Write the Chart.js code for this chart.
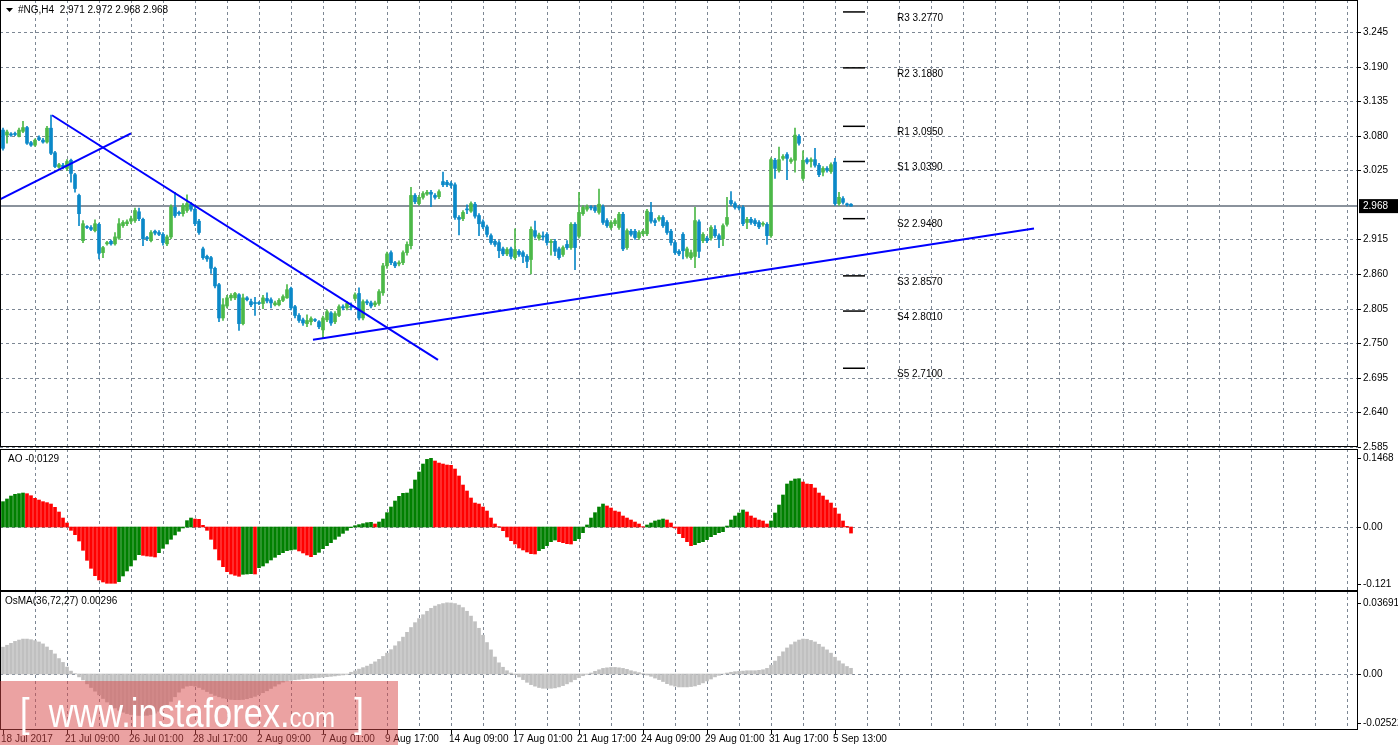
<!DOCTYPE html>
<html><head><meta charset="utf-8">
<script src="https://cdn.jsdelivr.net/npm/chart.js@4"></script>
<style>
body{margin:0;background:#fff;width:1398px;height:750px;overflow:hidden;position:relative;font-family:"Liberation Sans",sans-serif}
canvas{position:absolute;left:0}
#c1{z-index:2}
#wm{position:absolute;left:0;top:681px;width:398px;height:64px;background:rgba(215,70,70,0.5);z-index:3}
#wm span{position:absolute;left:20px;top:0;color:#fff;font-family:"Liberation Sans",sans-serif;font-size:40px;line-height:64px;white-space:nowrap;transform:scaleX(0.86);transform-origin:left center}
#wm small{font-size:28px}
</style></head><body>
<canvas id="c1" width="1398" height="452" style="top:0"></canvas>
<canvas id="c2" width="1398" height="142" style="top:449px"></canvas>
<canvas id="c3" width="1398" height="159" style="top:591px"></canvas>
<div id="wm"><span>[ &nbsp;www.instaforex.<small>com</small> &nbsp;]</span></div>
<script>
const O=[3.089,3.081,3.083,3.083,3.079,3.087,3.093,3.069,3.065,3.077,
3.073,3.070,3.092,3.053,3.030,3.033,3.028,3.041,3.018,2.985,
2.913,2.935,2.934,2.929,2.939,2.894,2.908,2.912,2.908,2.917,
2.937,2.940,2.944,2.945,2.959,2.947,2.918,2.913,2.928,2.926,
2.923,2.908,2.919,2.966,2.958,2.956,2.961,2.971,2.963,2.944,
2.900,2.888,2.886,2.869,2.843,2.790,2.809,2.822,2.822,2.827,
2.781,2.822,2.816,2.814,2.814,2.813,2.821,2.819,2.811,2.811,
2.818,2.822,2.837,2.808,2.794,2.787,2.781,2.784,2.787,2.784,
2.771,2.787,2.798,2.784,2.794,2.808,2.806,2.808,2.821,2.829,
2.790,2.816,2.814,2.811,2.813,2.830,2.873,2.894,2.878,2.876,
2.878,2.894,2.905,2.985,2.972,2.982,2.987,2.990,2.985,2.983,
3.007,3.006,3.004,3.002,2.950,2.948,2.963,2.960,2.971,2.953,
2.943,2.935,2.921,2.912,2.910,2.900,2.892,2.900,2.886,2.896,
2.894,2.888,2.883,2.929,2.917,2.920,2.923,2.910,2.912,2.900,
2.891,2.907,2.902,2.939,2.920,2.956,2.963,2.966,2.966,2.958,
2.967,2.945,2.934,2.940,2.934,2.955,2.902,2.928,2.928,2.918,
2.924,2.924,2.958,2.945,2.947,2.950,2.942,2.928,2.910,2.896,
2.923,2.888,2.886,2.888,2.943,2.913,2.917,2.917,2.931,2.921,
2.916,2.939,2.977,2.972,2.966,2.966,2.942,2.947,2.945,2.942,
2.939,2.939,2.921,3.041,3.025,3.044,3.050,3.039,3.041,3.079,
3.012,3.042,3.039,3.042,3.033,3.022,3.028,3.023,3.038,2.972,
2.980,2.971,2.971];
const C=[3.060,3.086,3.081,3.082,3.089,3.093,3.068,3.065,3.073,3.074,
3.070,3.092,3.052,3.031,3.034,3.030,3.039,3.020,2.996,2.956,
2.940,2.934,2.931,2.940,2.893,2.902,2.910,2.908,2.919,2.940,
2.942,2.943,2.948,2.961,2.948,2.916,2.916,2.926,2.925,2.923,
2.910,2.919,2.967,2.953,2.956,2.969,2.972,2.963,2.940,2.926,
2.886,2.884,2.869,2.841,2.790,2.811,2.822,2.826,2.829,2.781,
2.822,2.819,2.811,2.813,2.813,2.822,2.817,2.814,2.814,2.818,
2.824,2.835,2.806,2.794,2.786,2.782,2.786,2.789,2.786,2.776,
2.790,2.800,2.782,2.797,2.808,2.806,2.813,2.807,2.827,2.790,
2.816,2.814,2.809,2.814,2.832,2.873,2.892,2.878,2.873,2.878,
2.894,2.907,2.985,2.975,2.982,2.988,2.990,2.987,2.982,2.991,
3.002,3.002,3.001,2.950,2.947,2.958,2.962,2.972,2.952,2.940,
2.935,2.923,2.910,2.907,2.897,2.892,2.899,2.888,2.899,2.891,
2.888,2.880,2.931,2.920,2.922,2.919,2.910,2.912,2.896,2.886,
2.902,2.902,2.939,2.902,2.958,2.966,2.967,2.965,2.961,2.971,
2.942,2.937,2.942,2.945,2.955,2.900,2.929,2.923,2.918,2.926,
2.928,2.960,2.944,2.942,2.950,2.937,2.926,2.910,2.894,2.892,
2.897,2.900,2.894,2.945,2.896,2.923,2.913,2.934,2.921,2.915,
2.937,2.950,2.972,2.966,2.965,2.940,2.947,2.942,2.940,2.935,
2.940,2.921,3.042,3.028,3.042,3.047,3.044,3.042,3.081,3.068,
3.041,3.038,3.042,3.033,3.018,3.028,3.025,3.034,2.972,2.982,
2.974,2.970,2.968];
const H=[3.092,3.089,3.085,3.086,3.092,3.103,3.095,3.071,3.075,3.080,
3.076,3.095,3.113,3.055,3.036,3.036,3.042,3.043,3.020,2.987,
2.945,2.937,2.937,2.946,2.941,2.904,2.912,2.914,2.926,2.948,
2.945,2.946,2.952,2.965,2.965,2.949,2.920,2.929,2.930,2.929,
2.926,2.922,2.970,2.990,2.960,2.972,2.986,2.974,2.966,2.947,
2.903,2.890,2.888,2.871,2.845,2.821,2.826,2.829,2.831,2.829,
2.828,2.824,2.820,2.823,2.816,2.826,2.830,2.822,2.817,2.821,
2.827,2.843,2.839,2.810,2.797,2.790,2.795,2.792,2.789,2.786,
2.793,2.803,2.800,2.800,2.811,2.811,2.816,2.814,2.830,2.838,
2.819,2.819,2.817,2.817,2.835,2.877,2.895,2.897,2.880,2.881,
2.897,2.911,2.998,2.988,2.985,2.991,2.993,2.993,2.988,2.994,
3.022,3.009,3.007,3.005,2.953,2.961,2.970,2.975,2.974,2.956,
2.946,2.938,2.924,2.915,2.913,2.903,2.902,2.903,2.932,2.899,
2.897,2.891,2.935,2.944,2.925,2.927,2.926,2.915,2.915,2.903,
2.905,2.913,2.942,2.942,2.990,2.969,2.970,2.969,2.969,2.995,
2.970,2.948,2.945,2.948,2.958,2.958,2.932,2.931,2.931,2.929,
2.931,2.963,2.974,2.948,2.953,2.953,2.945,2.931,2.913,2.899,
2.926,2.903,2.898,2.966,2.946,2.926,2.920,2.937,2.937,2.924,
2.940,2.982,2.991,2.975,2.969,2.969,2.950,2.950,2.948,2.945,
2.943,2.942,3.045,3.044,3.062,3.050,3.053,3.045,3.092,3.082,
3.056,3.045,3.045,3.060,3.036,3.031,3.031,3.037,3.044,2.990,
2.983,2.973,2.972];
const L=[3.057,3.068,3.079,3.080,3.078,3.085,3.066,3.063,3.063,3.072,
3.068,3.068,3.050,3.029,3.028,3.027,3.025,3.006,2.990,2.937,
2.910,2.932,2.929,2.927,2.884,2.886,2.906,2.906,2.906,2.915,
2.934,2.937,2.940,2.942,2.945,2.905,2.913,2.911,2.922,2.921,
2.906,2.905,2.916,2.950,2.953,2.952,2.958,2.960,2.937,2.923,
2.883,2.880,2.861,2.838,2.784,2.786,2.806,2.818,2.819,2.770,
2.779,2.817,2.808,2.794,2.811,2.805,2.814,2.806,2.809,2.809,
2.816,2.821,2.803,2.790,2.783,2.778,2.776,2.779,2.784,2.773,
2.757,2.784,2.778,2.781,2.792,2.803,2.803,2.803,2.818,2.787,
2.787,2.811,2.806,2.808,2.810,2.826,2.869,2.875,2.870,2.873,
2.875,2.890,2.900,2.972,2.969,2.979,2.985,2.967,2.979,2.980,
2.999,2.999,2.997,2.947,2.922,2.945,2.956,2.958,2.949,2.921,
2.932,2.919,2.907,2.904,2.886,2.889,2.889,2.884,2.883,2.888,
2.878,2.870,2.860,2.917,2.914,2.914,2.906,2.890,2.889,2.883,
2.888,2.899,2.899,2.867,2.917,2.953,2.960,2.962,2.958,2.955,
2.939,2.934,2.931,2.937,2.931,2.897,2.899,2.920,2.915,2.915,
2.921,2.921,2.941,2.937,2.944,2.934,2.923,2.906,2.891,2.889,
2.884,2.885,2.883,2.870,2.886,2.910,2.910,2.914,2.918,2.902,
2.905,2.936,2.969,2.963,2.962,2.937,2.932,2.939,2.937,2.932,
2.936,2.907,2.918,3.012,3.022,3.041,3.010,3.036,3.022,3.065,
3.009,3.035,3.030,3.030,3.015,3.016,3.022,3.020,2.969,2.969,
2.971,2.968,2.968];
// Awesome Oscillator, units of 0.0001
const AO_E4=[539,596,659,695,709,723,709,666,610,574,539,518,489,418,319,191,85,
-71,-163,-298,-496,-709,-879,-1035,-1127,-1170,-1198,-1198,-1198,
-1163,-1042,-936,-830,-702,-589,-603,-617,-624,-638,
-546,-454,-362,-262,-170,-92,-21,135,191,170,163,35,
-71,-262,-468,-702,-844,-950,-1000,-1028,-1049,-1007,-1000,-993,-1000,
-865,-830,-766,-702,-645,-589,-546,-503,-489,-475,-510,-553,-596,-631,
-589,-539,-461,-397,-333,-262,-199,-135,-71,-14,28,50,71,92,99,64,
106,170,305,425,553,652,716,723,808,1000,1170,1340,1439,
1461,1404,1361,1340,1319,1312,1234,1085,893,766,617,510,489,425,340,191,64,7,-78,-213,
-291,-362,-447,-489,-532,-567,-574,-503,-461,-397,-312,-277,-312,-333,-355,-362,-291,-248,-121,43,
191,305,425,489,447,404,340,319,234,191,149,106,64,7,43,85,128,149,170,149,
85,-21,-142,-227,-312,-397,-376,-333,-312,-269,-206,-163,-121,-99,21,149,234,298,362,319,
234,191,149,128,64,128,298,468,681,915,978,1021,1028,957,915,908,830,723,659,574,
510,404,277,128,14,-129];
// OsMA(36,72,27), units of 0.0001
const OSMA_E4=[139,149,159,169,176,181,181,178,173,166,156,140,123,104,80,60,36,15,2,
-15,-31,-51,-70,-89,-108,-127,-145,-163,-176,-188,-198,-205,-210,-214,-215,
-215,-214,-210,-203,-193,-180,-163,-142,-118,-94,-74,-63,
-60,-63,-70,-80,-91,-101,-111,-118,
-125,-128,-132,-133,-133,-132,-128,-123,-116,-108,-97,-87,-75,-63,-52,-42,
-36,-33,-30,-28,-26,-24,-22,-20,-18,-16,-14,-12,-10,-7,-5,-2,
9,16,25,33,41,51,63,76,91,108,126,146,168,191,216,241,266,287,307,325,340,352,360,365,369,368,
365,357,344,325,300,271,237,201,163,125,88,58,35,17,5,-3,
-15,-29,-43,-55,-63,-70,-74,-74,-74,-72,-67,-60,-51,-41,-29,-19,-9,-2,
5,14,22,29,32,34,34,32,29,24,17,12,7,2,
-5,-12,-21,-29,-39,-50,-58,-63,-67,-67,-67,-65,-62,-55,-46,-36,-26,-15,-7,0,
5,9,12,14,15,17,17,17,19,22,29,
46,67,91,115,135,152,166,176,181,180,174,166,154,140,125,108,87,68,53,39,29.6];
const dateLabels=["18 Jul 2017","21 Jul 09:00","26 Jul 01:00","28 Jul 17:00","2 Aug 09:00","7 Aug 01:00","9 Aug 17:00","14 Aug 09:00","17 Aug 01:00","21 Aug 17:00","24 Aug 09:00","29 Aug 01:00","31 Aug 17:00","5 Sep 13:00"];
const priceTicks=[3.245,3.190,3.135,3.080,3.025,2.915,2.860,2.805,2.750,2.695,2.640,2.585];
const pivotNames=["R3","R2","R1","S1","S2","S3","S4","S5"];
const pivotLevels=[3.2770,3.1880,3.0950,3.0390,2.9480,2.8570,2.8010,2.7100];
const trendLines=[[[-0.75,2.9786],[32,3.0839]],[[12.25,3.1126],[108.75,2.7234]],[[77.5,2.7553],[257.75,2.9324]]];
const lastPrice=2.968;
const aoTicks=[0.1468,0,-0.121], aoTickText=["0.1468","0.00","-0.121"];
const osTicks=[0.03691,0,-0.02522], osTickText=["0.03691","0.00","-0.02522"];

const FONT='"Liberation Sans", sans-serif';
const FS='10px ';
const GRID='#7d8794';
const XMIN=-0.75, XMAX=338.75;
const N=C.length;
const idx=[...Array(N).keys()];
const GREEN='#4cb848', BLUE='#0a88c8';
const candleCol=idx.map(i=>C[i]>=O[i]?GREEN:BLUE);

function gridPlugin(hTicks,labTicks,labText){return{
 id:'g',
 beforeDatasetsDraw(ch){const {ctx,chartArea:a,scales:{x,y}}=ch;ctx.save();ctx.strokeStyle=GRID;ctx.lineWidth=1;ctx.setLineDash([3,3]);
  for(let k=8;k<XMAX;k+=8){const px=Math.round(x.getPixelForValue(k))+0.5;ctx.beginPath();ctx.moveTo(px,a.top);ctx.lineTo(px,a.bottom);ctx.stroke();}
  hTicks.forEach(v=>{const py=Math.round(y.getPixelForValue(v))+0.5;ctx.beginPath();ctx.moveTo(a.left,py);ctx.lineTo(a.right,py);ctx.stroke();});
  ctx.restore();},
 afterDraw(ch){const {ctx,chartArea:a,scales:{y}}=ch;ctx.save();ctx.strokeStyle='#000';ctx.lineWidth=1;ctx.setLineDash([]);
  ctx.strokeRect(a.left+0.5,a.top+0.5,a.right-a.left-1,a.bottom-a.top-1);
  ctx.font=FS+FONT;ctx.fillStyle='#000';ctx.textBaseline='middle';
  labTicks.forEach((v,i)=>{const py=Math.round(y.getPixelForValue(v));ctx.fillRect(a.right,py,3,1);ctx.fillText(labText[i],a.right+5,py);});
  ctx.restore();}
};}
function yScale(min,max){return{position:'right',min,max,
 afterFit(s){s.width=40;},grid:{display:false},border:{display:false},ticks:{display:false}};}
const xScale={type:'linear',min:XMIN,max:XMAX,display:false,offset:false};
const base={responsive:false,animation:false,devicePixelRatio:1,layout:{padding:0},
 plugins:{legend:{display:false},tooltip:{enabled:false}}};

// price chart
const ds=[];
ds.push({type:'line',data:[{x:XMIN,y:lastPrice},{x:XMAX,y:lastPrice}],borderColor:'#8a929c',borderWidth:2,pointRadius:0,order:5});
ds.push({type:'bar',data:idx.map(i=>({x:i,y:[L[i],H[i]]})),backgroundColor:candleCol,barThickness:1,minBarLength:1,grouped:false,order:3});
ds.push({type:'bar',data:idx.map(i=>({x:i,y:[O[i],C[i]]})),backgroundColor:candleCol,barThickness:3,minBarLength:1,grouped:false,order:2});
trendLines.forEach(t=>ds.push({type:'line',data:t.map(p=>({x:p[0],y:p[1]})),borderColor:'#0000ff',borderWidth:2,pointRadius:0,order:0}));
pivotLevels.forEach(v=>ds.push({type:'line',data:[{x:210,y:v},{x:215.5,y:v}],borderColor:'#000',borderWidth:1.5,pointRadius:0,order:1}));
new Chart(document.getElementById('c1'),{type:'bar',data:{datasets:ds},
 options:{...base,layout:{padding:{bottom:5}},scales:{x:xScale,y:yScale(3.296-446/627,3.296)}},
 plugins:[gridPlugin(priceTicks,priceTicks,priceTicks.map(v=>v.toFixed(3))),{id:'txt',afterDraw(ch){const {ctx,chartArea:a,scales:{x,y}}=ch;ctx.save();
  ctx.font=FS+FONT;ctx.fillStyle='#000';ctx.textBaseline='middle';
  pivotLevels.forEach((v,i)=>{ctx.fillText(pivotNames[i]+' '+v.toFixed(4),x.getPixelForValue(223.5),y.getPixelForValue(v)+6);});
  ctx.fillText('#NG,H4  '+O[N-1].toFixed(3)+' '+H[N-1].toFixed(3)+' '+L[N-1].toFixed(3)+' '+C[N-1].toFixed(3),18,10);
  ctx.beginPath();ctx.moveTo(6,8);ctx.lineTo(13,8);ctx.lineTo(9.5,12);ctx.closePath();ctx.fill();
  const py=y.getPixelForValue(lastPrice);ctx.fillStyle='#000';ctx.fillRect(a.right+1,py-7,39,14);
  ctx.fillStyle='#fff';ctx.fillText(lastPrice.toFixed(3),a.right+5,py);
  ctx.restore();}}]});

// AO
const ao=AO_E4.map(v=>v/10000);
const aoCol=ao.map((v,i)=>i===0||v>ao[i-1]?'#008000':'#ff0000');
new Chart(document.getElementById('c2'),{type:'bar',
 data:{datasets:[{data:idx.map(i=>({x:i,y:ao[i]})),backgroundColor:aoCol,barThickness:3,grouped:false}]},
 options:{...base,scales:{x:xScale,y:yScale(-64/470,78/470)}},
 plugins:[gridPlugin([0],aoTicks,aoTickText),{id:'t2',afterDraw(ch){const ctx=ch.ctx;ctx.save();ctx.font=FS+FONT;ctx.fillStyle='#000';ctx.textBaseline='middle';ctx.fillText('AO '+ao[N-1].toFixed(4),8,10);ctx.restore();}}]});

// OsMA
const os=OSMA_E4.map(v=>v/10000);
new Chart(document.getElementById('c3'),{type:'bar',
 data:{datasets:[{data:idx.map(i=>({x:i,y:os[i]})),backgroundColor:'#c0c0c0',barThickness:3,grouped:false}]},
 options:{...base,layout:{padding:{bottom:20}},scales:{x:xScale,y:yScale(-56/1930,83/1930)}},
 plugins:[gridPlugin([0],osTicks,osTickText),{id:'t3',afterDraw(ch){const {ctx,chartArea:a,scales:{x}}=ch;ctx.save();ctx.font=FS+FONT;ctx.fillStyle='#000';ctx.textBaseline='middle';
  ctx.fillText('OsMA(36,72,27) '+os[N-1].toFixed(5),5,10);
  dateLabels.forEach((t,i)=>{const px=x.getPixelForValue(i*16);ctx.fillRect(Math.round(px),a.bottom,1,4);ctx.fillText(t,px-2,a.bottom+9);});
  ctx.restore();}}]});
</script></body></html>
